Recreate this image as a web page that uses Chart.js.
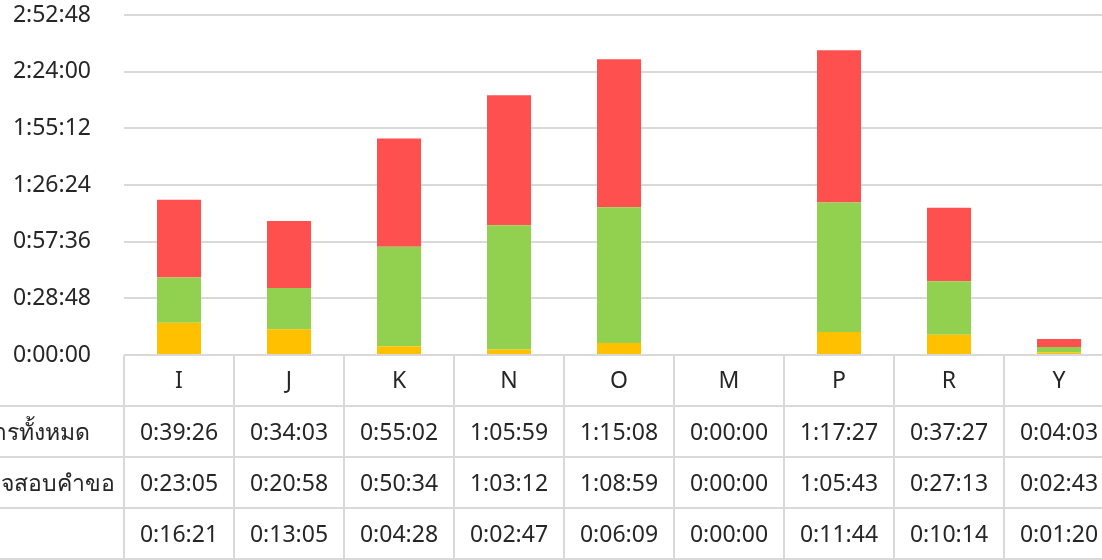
<!DOCTYPE html>
<html>
<head>
<meta charset="utf-8">
<script src="https://cdn.jsdelivr.net/npm/chart.js@4/dist/chart.umd.min.js"></script>
<style>
  html, body { margin: 0; padding: 0; background: #fff; overflow: hidden; }
  #wrap { width: 1102px; height: 560px; overflow: hidden; position: relative; }
  canvas { position: absolute; left: 0; top: 0; }
</style>
</head>
<body>
<div id="wrap"><canvas id="chart" width="1120" height="560"></canvas></div>
<script>
// categories and series (h:mm:ss as shown in the data table)
const categories = ['I', 'J', 'K', 'N', 'O', 'M', 'P', 'R', 'Y'];
const totalTime = ['0:39:26', '0:34:03', '0:55:02', '1:05:59', '1:15:08', '0:00:00', '1:17:27', '0:37:27', '0:04:03'];
const checkTime = ['0:23:05', '0:20:58', '0:50:34', '1:03:12', '1:08:59', '0:00:00', '1:05:43', '0:27:13', '0:02:43'];
const otherTime = ['0:16:21', '0:13:05', '0:04:28', '0:02:47', '0:06:09', '0:00:00', '0:11:44', '0:10:14', '0:01:20'];
const seriesNames = ['ระยะเวลาดำเนินการทั้งหมด', 'ระยะเวลาในการตรวจสอบคำขอ', 'อื่นๆ'];

// y axis: 0:00:00 to 2:52:48 in steps of 0:28:48
const yMax = '2:52:48';
const yStep = '0:28:48';

const FONT = '"Noto Sans", "Leelawadee UI", Tahoma, sans-serif';
const FONT_SIZE = 23;
const TEXT = '#262626';
const LINE = '#d9d9d9';

function toSeconds(s) {
    const p = s.split(':').map(Number);
    return p[0] * 3600 + p[1] * 60 + p[2];
}

function fmt(sec) {
    const h = Math.floor(sec / 3600);
    const m = Math.floor((sec % 3600) / 60);
    const s = Math.round(sec % 60);
    return h + ':' + String(m).padStart(2, '0') + ':' + String(s).padStart(2, '0');
}

// table rows in the order shown below the plot
const tableRows = [
    { name: seriesNames[0], values: totalTime, labelRight: 90 },
    { name: seriesNames[1], values: checkTime, labelRight: 115 },
    { name: seriesNames[2], values: otherTime, labelRight: -30 }
];

const ROW_H = 51;

const dataTablePlugin = {
    id: 'dataTable',
    afterDraw(chart) {
        const ctx = chart.ctx;
        const xs = chart.scales.x;
        const top = chart.chartArea.bottom;
        const half = (xs.getPixelForValue(1) - xs.getPixelForValue(0)) / 2;
        const width = chart.width;

        ctx.save();
        ctx.strokeStyle = LINE;
        ctx.lineWidth = 2;

        // vertical cell borders
        for (let i = 0; i <= categories.length; i++) {
            const x = Math.round(xs.getPixelForValue(i) - half);
            ctx.beginPath();
            ctx.moveTo(x, top);
            ctx.lineTo(x, top + ROW_H * 4);
            ctx.stroke();
        }
        // horizontal row borders
        for (let r = 1; r <= 4; r++) {
            const y = Math.round(top + ROW_H * r);
            ctx.beginPath();
            ctx.moveTo(0, y);
            ctx.lineTo(width, y);
            ctx.stroke();
        }

        ctx.fillStyle = TEXT;
        ctx.font = FONT_SIZE + 'px ' + FONT;
        ctx.textBaseline = 'middle';
        tableRows.forEach((row, r) => {
            const cy = top + ROW_H * (r + 1.5) + 2;
            ctx.textAlign = 'right';
            ctx.fillText(row.name, row.labelRight, cy);
            ctx.textAlign = 'center';
            row.values.forEach((v, i) => {
                ctx.fillText(v, xs.getPixelForValue(i), cy);
            });
        });
        ctx.restore();
    }
};

new Chart(document.getElementById('chart'), {
    type: 'bar',
    data: {
        labels: categories,
        datasets: [
            {
                label: seriesNames[2],
                data: otherTime.map(toSeconds),
                backgroundColor: '#FFC000'
            },
            {
                label: seriesNames[1],
                data: checkTime.map(toSeconds),
                backgroundColor: '#92D050'
            },
            {
                label: seriesNames[0],
                data: totalTime.map(toSeconds),
                backgroundColor: '#FF5050'
            }
        ]
    },
    options: {
        responsive: false,
        animation: false,
        layout: { padding: { top: 15, right: 6, left: 0, bottom: 0 } },
        datasets: {
            bar: { categoryPercentage: 1, barPercentage: 0.4 }
        },
        plugins: {
            legend: { display: false },
            tooltip: { enabled: false }
        },
        scales: {
            x: {
                stacked: true,
                grid: { display: false, drawTicks: false },
                border: { display: false },
                ticks: {
                    color: TEXT,
                    font: { family: FONT, size: FONT_SIZE },
                    padding: 13
                },
                afterFit(scale) {
                    scale.height = 205;
                    scale.paddingLeft = 0;
                    scale.paddingRight = 0;
                }
            },
            y: {
                stacked: true,
                min: 0,
                max: toSeconds(yMax),
                grid: { color: LINE, lineWidth: 2, drawTicks: false },
                border: { display: false },
                ticks: {
                    stepSize: toSeconds(yStep),
                    color: TEXT,
                    font: { family: FONT, size: FONT_SIZE },
                    padding: 33,
                    callback: v => fmt(v)
                },
                afterFit(scale) {
                    scale.width = 124;
                    scale.paddingTop = 0;
                    scale.paddingBottom = 0;
                }
            }
        }
    },
    plugins: [dataTablePlugin]
});
</script>
</body>
</html>
